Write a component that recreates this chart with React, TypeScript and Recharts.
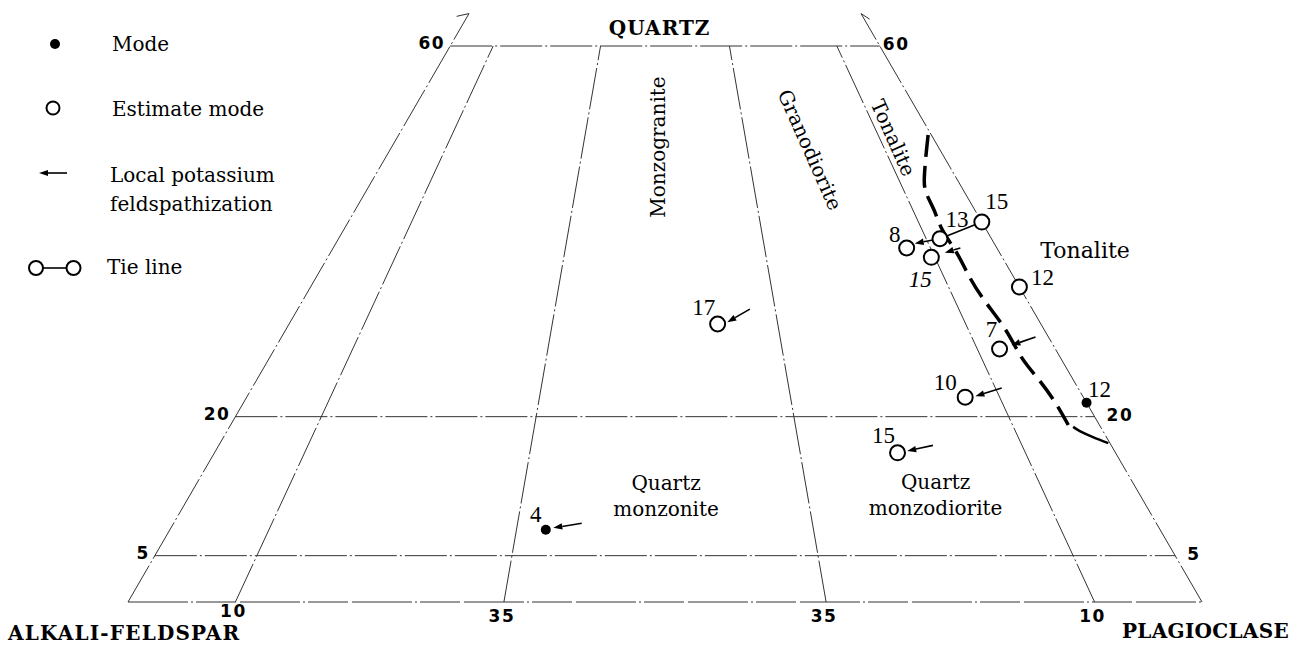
import React from 'react';
import { ScatterChart, Scatter, XAxis, YAxis, ReferenceLine } from 'recharts';

// QAP modal compositions in percent (A = 100 - Q - P)
const estimateLabels = ['15', '13', '8', '15', '12', '17', '7', '10', '15'];
const estimateQ = [41.0, 39.2, 38.2, 37.2, 34.0, 30.0, 27.3, 22.1, 16.1];
const estimateP = [59.0, 56.0, 53.4, 56.2, 66.0, 39.9, 67.5, 66.9, 63.6];

const modeLabels = ['12', '4'];
const modeQ = [21.5, 7.8];
const modeP = [78.5, 35.0];

// local potassium feldspathization arrows (tail -> head)
const arrowTailQ = [31.6, 28.6, 23.1, 16.9, 8.5, 38.2, 39.2];
const arrowTailP = [42.1, 70.2, 69.8, 66.5, 38.0, 58.4, 56.0];
const arrowHeadQ = [30.2, 27.7, 22.2, 16.3, 8.0, 37.7, 38.7];
const arrowHeadP = [40.7, 68.4, 67.8, 64.4, 35.6, 57.2, 53.9];

// tie line 15 -> 13
const tieQ = [41.0, 39.2];
const tieP = [59.0, 56.0];

// tonalite field boundary
const curveQ = [50.4, 48.2, 45.9, 44.2, 42.3, 40.1, 37.7, 35.3, 32.6, 29.4, 26.4, 24.0, 21.5, 19.1];
const curveP = [49.3, 50.2, 51.2, 52.2, 53.9, 55.8, 58.3, 60.6, 63.4, 67.0, 70.0, 72.8, 75.6, 78.0];
const arcQ = [18.9, 18.45, 17.8, 17.15];
const arcP = [78.55, 79.4, 80.95, 82.7];

// diagram grid
const qLevels = [5, 20, 60];
const pRatios = [10, 35, 65, 90];
const ratioLabels = ['10', '35', '35', '10'];
const Q_TOP = 60;
const Q_EDGE_END = 63.5;

const toXY = (q: number, p: number) => ({ x: p + q / 2, y: q });

// label offsets for sample numbers (px)
const estDx = [15, 17, -12, -11, 23, -14, -8, -20, -14];
const estDy = [-13, -12, -6, 30, -2, -9, -12, -7, -10];
const modeDx = [13, -10];
const modeDy = [-6, -8];

const SERIF = '"DejaVu Serif", serif';
const NUMFONT = '"Liberation Serif", "Times New Roman", serif';
const SANS = '"DejaVu Sans", sans-serif';

const estimateData = estimateQ.map((q, i) => ({
  ...toXY(q, estimateP[i]), label: estimateLabels[i], dx: estDx[i], dy: estDy[i], italic: i === 3,
}));
const modeData = modeQ.map((q, i) => ({
  ...toXY(q, modeP[i]), label: modeLabels[i], dx: modeDx[i], dy: modeDy[i], italic: false,
}));
const curveData = curveQ.map((q, i) => toXY(q, curveP[i]));
const arcData = arcQ.map((q, i) => toXY(q, arcP[i]));

type TextItem = {
  x: number; y: number; text: string; dx: number; dy: number;
  anchor: 'start' | 'middle' | 'end'; rotate?: number; font: string; size: number; weight?: string; ls?: number;
};

const textItems: TextItem[] = [
  { ...toXY(Q_TOP, 19.5), text: 'QUARTZ', dx: 0, dy: -11, anchor: 'middle', font: SERIF, size: 20, weight: 'bold', ls: 1 },
  { ...toXY(0, 0), text: 'ALKALI-FELDSPAR', dx: -120, dy: 38, anchor: 'start', font: SERIF, size: 20, weight: 'bold', ls: 1.2 },
  { ...toXY(0, 100), text: 'PLAGIOCLASE', dx: -80, dy: 36, anchor: 'start', font: SERIF, size: 20, weight: 'bold', ls: 0.3 },
  { ...toXY(49.1, 24.8), text: 'Monzogranite', dx: 0, dy: 0, anchor: 'middle', rotate: -90, font: SERIF, size: 20 },
  { ...toXY(48.8, 39.1), text: 'Granodiorite', dx: 0, dy: 0, anchor: 'middle', rotate: 66, font: SERIF, size: 20 },
  { ...toXY(50.1, 46.2), text: 'Tonalite', dx: 0, dy: 0, anchor: 'middle', rotate: 66, font: SERIF, size: 20 },
  { ...toXY(37.1, 66.4), text: 'Tonalite', dx: 0, dy: 0, anchor: 'start', font: SERIF, size: 22 },
  { ...toXY(12.1, 44.05), text: 'Quartz\nmonzonite', dx: 0, dy: 0, anchor: 'middle', font: SERIF, size: 20 },
  { ...toXY(12.2, 69.1), text: 'Quartz\nmonzodiorite', dx: 0, dy: 0, anchor: 'middle', font: SERIF, size: 20 },
  ...qLevels.map((q) => ({
    ...toXY(q, 0), text: String(q), dx: -5, dy: 3, anchor: 'end' as const, font: SANS, size: 17, weight: 'bold', ls: 1.5,
  })),
  ...qLevels.map((q) => ({
    ...toXY(q, 100 - q), text: String(q), dx: q === Q_TOP ? 3 : 12, dy: 4, anchor: 'start' as const, font: SANS, size: 17, weight: 'bold', ls: 1.5,
  })),
  ...pRatios.map((r, i) => ({
    ...toXY(0, r), text: ratioLabels[i], dx: -2, dy: i === 0 ? 15 : 20, anchor: 'middle' as const, font: SANS, size: 17, weight: 'bold', ls: 1.5,
  })),
];

const TextShape = (props: any) => {
  const { cx, cy, payload } = props;
  const t: TextItem = payload;
  const x = cx + t.dx;
  const y = cy + t.dy;
  const lines = t.text.split('\n');
  return (
    <text
      x={x}
      y={y}
      textAnchor={t.anchor}
      dominantBaseline={t.rotate !== undefined ? 'central' : 'alphabetic'}
      transform={t.rotate !== undefined ? `rotate(${t.rotate} ${x} ${y})` : undefined}
      style={{ fontFamily: t.font, fontSize: t.size, fontWeight: t.weight || 'normal', letterSpacing: t.ls || 0 }}
      fill="#000"
    >
      {lines.map((l, i) => (
        <tspan key={i} x={x} dy={i === 0 ? 0 : 26}>{l}</tspan>
      ))}
    </text>
  );
};

const OpenCircle = (props: any) => {
  const { cx, cy, payload } = props;
  return (
    <g>
      <circle cx={cx} cy={cy} r={7.5} fill="#fff" stroke="#000" strokeWidth={2} />
      <text
        x={cx + payload.dx}
        y={cy + payload.dy}
        textAnchor="middle"
        style={{ fontFamily: NUMFONT, fontSize: 23, fontStyle: payload.italic ? 'italic' : 'normal' }}
        fill="#000"
      >
        {payload.label}
      </text>
    </g>
  );
};

const FilledDot = (props: any) => {
  const { cx, cy, payload } = props;
  return (
    <g>
      <circle cx={cx} cy={cy} r={5} fill="#000" />
      <text x={cx + payload.dx} y={cy + payload.dy} textAnchor="middle" style={{ fontFamily: NUMFONT, fontSize: 23 }} fill="#000">
        {payload.label}
      </text>
    </g>
  );
};

const Nothing = () => <g />;

const ArrowShape = (props: any) => {
  const { x1, y1, x2, y2 } = props;
  if ([x1, y1, x2, y2].some((v) => typeof v !== 'number')) return <g />;
  const ang = Math.atan2(y2 - y1, x2 - x1);
  const len = 9;
  const half = 3.2;
  const bx = x2 - len * Math.cos(ang);
  const by = y2 - len * Math.sin(ang);
  const lx = bx + half * Math.sin(ang);
  const ly = by - half * Math.cos(ang);
  const rx = bx - half * Math.sin(ang);
  const ry = by + half * Math.cos(ang);
  return (
    <g>
      <line x1={x1} y1={y1} x2={bx} y2={by} stroke="#000" strokeWidth={1.6} />
      <polygon points={`${x2},${y2} ${lx},${ly} ${rx},${ry}`} fill="#000" />
    </g>
  );
};

const gridStroke = { stroke: '#333', strokeWidth: 1, strokeDasharray: '42 3 2 3' };

const Legend = () => (
  <svg width={330} height={300} style={{ position: 'absolute', left: 0, top: 0 }}>
    <g style={{ fontFamily: SERIF, fontSize: 20 }} fill="#000">
      <circle cx={55} cy={44} r={5} fill="#000" />
      <text x={112} y={51}>Mode</text>
      <circle cx={53} cy={108} r={6.5} fill="none" stroke="#000" strokeWidth={2} />
      <text x={112} y={116}>Estimate mode</text>
      <line x1={48} y1={173} x2={67} y2={173} stroke="#000" strokeWidth={1.6} />
      <polygon points="39,173 48,170 48,176" fill="#000" />
      <text x={110} y={182}>Local potassium</text>
      <text x={110} y={211}>feldspathization</text>
      <line x1={43} y1={268} x2={66} y2={268} stroke="#000" strokeWidth={1.6} />
      <circle cx={36} cy={268} r={7} fill="#fff" stroke="#000" strokeWidth={2} />
      <circle cx={73.5} cy={268} r={7} fill="#fff" stroke="#000" strokeWidth={2} />
      <text x={107} y={274}>Tie line</text>
    </g>
  </svg>
);

export default function App() {
  const seg = (a: { x: number; y: number }, b: { x: number; y: number }) => [a, b] as any;
  return (
    <div style={{ position: 'absolute', left: 0, top: 0, width: 1309, height: 645, background: '#fff' }}>
      <ScatterChart width={1309} height={645} margin={{ top: 46, right: 107, bottom: 43, left: 128 }}>
        <XAxis type="number" dataKey="x" domain={[0, 100]} hide />
        <YAxis type="number" dataKey="y" domain={[0, 60]} hide />

        {/* outer edges */}
        <ReferenceLine segment={seg(toXY(0, 0), toXY(Q_EDGE_END, 0))} ifOverflow="visible" {...gridStroke} />
        <ReferenceLine segment={seg(toXY(0, 100), toXY(Q_EDGE_END, 100 - Q_EDGE_END))} ifOverflow="visible" {...gridStroke} />
        <ReferenceLine segment={seg(toXY(Q_EDGE_END, 0), toXY(63.2, -1))} ifOverflow="visible" stroke="#333" strokeWidth={1} />
        <ReferenceLine segment={seg(toXY(Q_EDGE_END, 100 - Q_EDGE_END), toXY(62.9, 37.6))} ifOverflow="visible" stroke="#333" strokeWidth={1} />
        <ReferenceLine segment={seg(toXY(0, 0), toXY(0, 100))} ifOverflow="visible" stroke="#333" strokeWidth={1} strokeDasharray="60 3 2 3 40 4" />

        {/* Q levels */}
        {qLevels.map((q) => (
          <ReferenceLine key={`q${q}`} segment={seg(toXY(q, 0), toXY(q, 100 - q))} ifOverflow="visible" {...gridStroke} />
        ))}

        {/* field boundaries P/(A+P) */}
        {pRatios.map((r) => (
          <ReferenceLine
            key={`r${r}`}
            segment={seg(toXY(0, r), toXY(Q_TOP, (r * (100 - Q_TOP)) / 100))}
            ifOverflow="visible"
            {...gridStroke}
          />
        ))}

        {/* tie line */}
        <ReferenceLine segment={seg(toXY(tieQ[0], tieP[0]), toXY(tieQ[1], tieP[1]))} ifOverflow="visible" stroke="#000" strokeWidth={1.6} />

        {/* arrows */}
        {arrowTailQ.map((q, i) => (
          <ReferenceLine
            key={`a${i}`}
            segment={seg(toXY(q, arrowTailP[i]), toXY(arrowHeadQ[i], arrowHeadP[i]))}
            ifOverflow="visible"
            shape={ArrowShape}
          />
        ))}

        <Scatter
          data={curveData}
          isAnimationActive={false}
          shape={Nothing}
          line={{ stroke: '#000', strokeWidth: 3.5, strokeDasharray: '22 9' }}
          lineJointType="natural"
        />
        <Scatter
          data={arcData}
          isAnimationActive={false}
          shape={Nothing}
          line={{ stroke: '#000', strokeWidth: 2.5 }}
          lineJointType="natural"
        />
        <Scatter data={estimateData} isAnimationActive={false} shape={OpenCircle} />
        <Scatter data={modeData} isAnimationActive={false} shape={FilledDot} />
        <Scatter data={textItems} isAnimationActive={false} shape={TextShape} />
      </ScatterChart>
      <Legend />
    </div>
  );
}
